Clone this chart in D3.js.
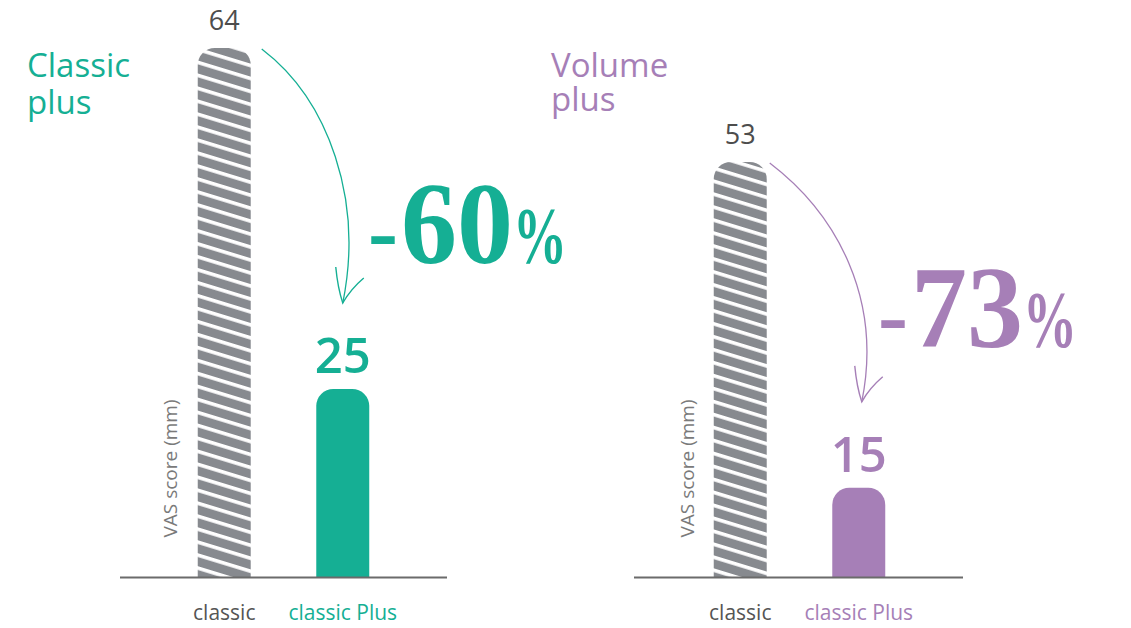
<!DOCTYPE html>
<html>
<head>
<meta charset="utf-8">
<script src="https://cdn.jsdelivr.net/npm/d3@7"></script>
<style>
  html, body { margin: 0; padding: 0; background: #fff; }
  svg { display: block; }
</style>
</head>
<body>
<svg id="chart" width="1131" height="628"></svg>
<script>
// ---------------- data ----------------
const categories = ["classic", "classic Plus"];
const panelTitles = [["Classic", "plus"], ["Volume", "plus"]];
const classicValues = [64, 53];
const plusValues = [25, 15];
const reductionNumbers = ["60", "73"];
const axisTitle = "VAS score (mm)";

// ---------------- style / layout ----------------
const TEAL = "#15af94";
const PURPLE = "#a67fb7";
const GRAY_BAR = "#878a8f";
const panels = [
  { color: TEAL,   x0: 120, x1: 447, base: 577, domainMin: 3.5, top: 48,
    titleX: 27, titleY: [77, 114], pctX: 372, pctY: 263, vasX: 177 },
  { color: PURPLE, x0: 636, x1: 963, base: 577, domainMin: 4.6, top: 162,
    titleX: 551, titleY: [77, 111], pctX: 882, pctY: 347, vasX: 694 }
];

const svg = d3.select("#chart");
const defs = svg.append("defs");
const pat = defs.append("pattern")
  .attr("id", "hatch")
  .attr("patternUnits", "userSpaceOnUse")
  .attr("width", 20).attr("height", 12.4)
  .attr("patternTransform", "rotate(17)");
pat.append("rect").attr("width", 20).attr("height", 12.4).attr("fill", GRAY_BAR);
pat.append("rect").attr("y", 0).attr("width", 20).attr("height", 3.6).attr("fill", "#fff");

function topRounded(x, w, yTop, yBase, r) {
  return `M${x},${yBase} L${x},${yTop + r} A${r},${r} 0 0 1 ${x + r},${yTop} ` +
         `L${x + w - r},${yTop} A${r},${r} 0 0 1 ${x + w},${yTop + r} L${x + w},${yBase} Z`;
}

panels.forEach((p, i) => {
  const g = svg.append("g");
  const values = [classicValues[i], plusValues[i]];
  const x = d3.scaleBand().domain(categories).range([p.x0, p.x1])
    .paddingInner(0.553).paddingOuter(0.656);
  const y = d3.scaleLinear().domain([p.domainMin, values[0]]).range([p.base, p.top]);
  const bw = x.bandwidth();

  // title
  const t = g.append("text")
    .attr("font-family", "'Open Sans', sans-serif")
    .attr("font-size", 33).attr("fill", p.color);
  panelTitles[i].forEach((line, k) => {
    t.append("tspan").attr("x", p.titleX).attr("y", p.titleY[k]).text(line);
  });

  // bars
  categories.forEach((c, k) => {
    g.append("path")
      .attr("d", topRounded(x(c), bw, y(values[k]), p.base, 17))
      .attr("fill", k === 0 ? "url(#hatch)" : p.color);
  });

  // value labels
  g.append("text")
    .attr("x", x(categories[0]) + bw / 2).attr("y", y(values[0]) - 18)
    .attr("text-anchor", "middle")
    .attr("font-family", "'Open Sans', sans-serif").attr("font-size", 27)
    .attr("fill", "#4d4d4d").text(values[0]);
  g.append("text")
    .attr("x", x(categories[1]) + bw / 2).attr("y", y(values[1]) - 16)
    .attr("text-anchor", "middle")
    .attr("font-family", "'Open Sans', sans-serif").attr("font-size", 49)
    .attr("font-weight", 600)
    .attr("fill", p.color).text(values[1]);

  // baseline axis
  g.append("line")
    .attr("x1", p.x0 - (i === 1 ? 2 : 0)).attr("x2", p.x1)
    .attr("y1", p.base + 0.5).attr("y2", p.base + 0.5)
    .attr("stroke", "#6b6b6b").attr("stroke-width", 2);

  // category labels
  categories.forEach((c, k) => {
    g.append("text")
      .attr("x", x(c) + bw / 2).attr("y", 620)
      .attr("text-anchor", "middle")
      .attr("font-family", "'Open Sans', sans-serif").attr("font-size", 21)
      .attr("fill", k === 0 ? "#555" : p.color).text(c);
  });

  // y axis title
  g.append("text")
    .attr("transform", `translate(${p.vasX},${(397 + 540) / 2}) rotate(-90)`)
    .attr("text-anchor", "middle")
    .attr("font-family", "'Open Sans', sans-serif").attr("font-size", 19)
    .attr("fill", "#7a7a7a").text(axisTitle);

  // arrow
  const sx = x(categories[0]) + bw + (i === 0 ? 11 : 3), sy = y(values[0]) + 1;
  const tx = x(categories[1]) + bw / 2 + (i === 0 ? 0 : 3), ty = y(values[1]) - 86;
  g.append("path")
    .attr("d", `M${sx},${sy} C${sx + 67},${sy + 51} ${tx + 21},${ty - 103} ${tx},${ty}`)
    .attr("fill", "none").attr("stroke", p.color).attr("stroke-width", 1.3);
  g.append("path")
    .attr("d", `M${tx - 7},${ty - 36} Q${tx - 5},${ty - 15} ${tx},${ty} Q${tx + 8},${ty - 14} ${tx + 21},${ty - 25}`)
    .attr("fill", "none").attr("stroke", p.color).attr("stroke-width", 1.4)
    .attr("stroke-linejoin", "miter");

  // percentage
  const serif = "'Liberation Serif', 'DejaVu Serif', serif";
  const pt = g.append("text")
    .attr("x", p.pctX - 4).attr("y", p.pctY - 1)
    .attr("font-family", serif).attr("font-weight", 700)
    .attr("fill", p.color);
  pt.append("tspan").attr("font-size", 90).text("-");
  pt.append("tspan")
    .attr("x", p.pctX + 29).attr("y", p.pctY).attr("font-size", 116)
    .attr("textLength", 112).attr("lengthAdjust", "spacingAndGlyphs")
    .text(reductionNumbers[i]);
  pt.append("tspan")
    .attr("x", p.pctX + 141).attr("y", p.pctY).attr("font-size", 80)
    .attr("textLength", 54).attr("lengthAdjust", "spacingAndGlyphs")
    .text("%");
});
</script>
</body>
</html>
